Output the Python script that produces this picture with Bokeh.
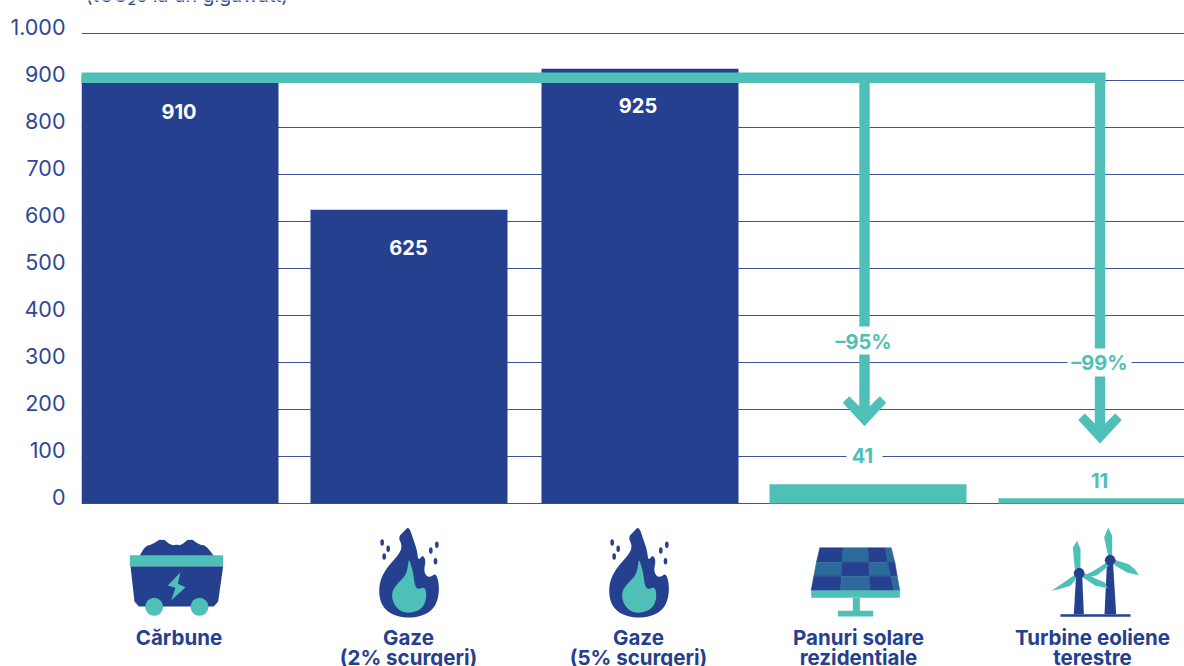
from bokeh.core.properties import value
from bokeh.embed import file_html
from bokeh.models import FixedTicker, Grid, LinearAxis, Range1d
from bokeh.plotting import figure
from bokeh.resources import INLINE

# Chart data
categories = ["Cărbune", "Gaze\n(2% scurgeri)", "Gaze\n(5% scurgeri)",
              "Panuri solare\nrezidențiale", "Turbine eoliene\nterestre"]
emissions = [910, 625, 925, 41, 11]
emission_labels = ["910", "625", "925", "41", "11"]
tick_values = [0, 100, 200, 300, 400, 500, 600, 700, 800, 900, 1000]
tick_labels = ["0", "100", "200", "300", "400", "500", "600", "700", "800", "900", "1.000"]
reductions = ["–95%", "–99%"]
unit_caption = "(tCO₂e la un gigawatt)"

# Layout, in page pixels
W, H = 1184, 666
FRAME_LEFT = 81
ZERO_Y = 503
PX_PER_UNIT = 0.47
BAR_LEFT = [81, 310, 541, 769, 998]
BAR_W = 197
LABEL_CX = [178.5, 408, 638, 858, 1092]
VALUE_CX = [178.5, 408, 637.5, 862, 1099]
VALUE_CY = [111, 247, 105, 455, 480]

NAVY = "#25408F"
TEAL = "#4EC0B7"
GRID = "#3E52A0"
PANEL_LIGHT = "#2B6A9B"
FONT = "Inter"

y_start = -(H - ZERO_Y) / PX_PER_UNIT
y_end = ZERO_Y / PX_PER_UNIT
label_shift = 7 / PX_PER_UNIT

p = figure(width=W, height=H, output_backend="svg", toolbar_location=None,
           x_range=Range1d(FRAME_LEFT, W), y_range=Range1d(y_start, y_end),
           x_axis_location=None, y_axis_location=None,
           min_border_left=FRAME_LEFT, min_border_right=0, min_border_top=0, min_border_bottom=0,
           outline_line_color=None, background_fill_color="white", border_fill_color="white")
p.grid.visible = False

# Page-coordinate range for the connector, pictograms and captions
p.extra_y_ranges = {"page": Range1d(H, 0),
                    "ticks": Range1d(y_start - label_shift, y_end - label_shift)}

# Tick labels sit just above their gridlines
axis = LinearAxis(y_range_name="ticks", ticker=FixedTicker(ticks=tick_values),
                  major_label_overrides=dict(zip(tick_values, tick_labels)),
                  axis_line_color=None, major_tick_line_color=None, minor_tick_line_color=None,
                  major_label_standoff=10, major_label_text_color="#2E4896",
                  major_label_text_font=FONT, major_label_text_font_size="21.5px")
p.add_layout(axis, "left")
p.add_layout(Grid(dimension=1, ticker=FixedTicker(ticks=tick_values), grid_line_color=GRID,
                  grid_line_width=1, level="underlay"))

# Bars
bar_colors = [NAVY, NAVY, NAVY, TEAL, TEAL]
p.quad(left=BAR_LEFT, right=[x + BAR_W for x in BAR_LEFT], bottom=[0] * 5, top=emissions,
       fill_color=bar_colors, line_color=None)


def poly(pts, color, ox=0.0, oy=0.0, scale=1.0, seam=0.0):
    p.patch([ox + x * scale for x, _ in pts], [oy + y * scale for _, y in pts],
            fill_color=color, line_color=color if seam else None, line_width=seam or 1,
            y_range_name="page")


def box(x0, x1, y0, y1, color, ox=0.0, oy=0.0, scale=1.0):
    p.quad(left=[ox + x0 * scale], right=[ox + x1 * scale], top=[oy + y0 * scale],
           bottom=[oy + y1 * scale], fill_color=color, line_color=None, y_range_name="page")


def disc(cx, cy, r, color, ox=0.0, oy=0.0, scale=1.0):
    p.ellipse(x=[ox + cx * scale], y=[oy + cy * scale], width=2 * r * scale, height=2 * r * scale,
              fill_color=color, line_color=None, y_range_name="page")


def rounded(pts, passes=2):
    # Corner-cutting to soften a closed outline
    for _ in range(passes):
        out = []
        for i, (x0, y0) in enumerate(pts):
            x1, y1 = pts[(i + 1) % len(pts)]
            out.append((0.75 * x0 + 0.25 * x1, 0.75 * y0 + 0.25 * y1))
            out.append((0.25 * x0 + 0.75 * x1, 0.25 * y0 + 0.75 * y1))
        pts = out
    return pts


# Connector with two downward arrows
ARROW_LEVEL = 77
box(80, 1105, 72, 82.5, TEAL)
for cx, tip in [(864, 425.7), (1099.5, 443)]:
    box(cx - 5.2, cx + 5.2, ARROW_LEVEL, tip - 15, TEAL)
    poly([(cx, tip), (cx + 21.7, tip - 23.4), (cx + 15.3, tip - 30), (cx + 5.2, tip - 20),
          (cx - 5.2, tip - 20), (cx - 15.3, tip - 30), (cx - 21.7, tip - 23.4)], TEAL)

# White knock-outs behind labels that interrupt lines
box(830, 897, 326, 354, "white")
box(1067, 1131, 348, 376, "white")
box(846, 882, 448, 464, "white")

# Value labels
value_colors = ["white", "white", "white", TEAL, TEAL]
p.text(x=VALUE_CX, y=VALUE_CY, text=emission_labels, y_range_name="page", text_align="center",
       text_baseline="middle", text_color=value_colors, text_font=value(FONT),
       text_font_style="bold", text_font_size="20px")
p.text(x=[863, 1099], y=[341, 362], text=reductions, y_range_name="page", text_align="center",
       text_baseline="middle", text_color=TEAL, text_font=value(FONT),
       text_font_style="bold", text_font_size="20px")

# Unit caption, running off the top of the page
p.text(x=[85], y=[0], y_offset=-6, text=[unit_caption], y_range_name="page", text_align="left",
       text_baseline="alphabetic", text_color="#2E4896", text_font=value(FONT),
       text_font_size="19.5px")

# Category captions
for cx, name in zip(LABEL_CX, categories):
    for i, line in enumerate(name.split("\n")):
        p.text(x=[cx], y=[637 + 20 * i], text=[line], y_range_name="page", text_align="center",
               text_baseline="middle", text_color=NAVY, text_font=value(FONT),
               text_font_style="bold", text_font_size="20.5px")

# Coal wagon pictogram
S = 1 / 3
O = dict(ox=120, oy=525, scale=S)
poly(rounded([(57, 90), (75, 62), (93, 57), (125, 38), (153, 60), (170, 57), (180, 60), (208, 38),
              (238, 58), (255, 60), (280, 90), (280, 100), (57, 100)], 1), NAVY, **O)
poly([(30, 122), (308, 122), (293, 228), (280, 243), (55, 243), (42, 228)], NAVY, **O)
box(28, 308, 89, 122, TEAL, **O)
disc(101, 244, 27, TEAL, **O)
disc(237, 244, 27, TEAL, **O)
poly([(180, 140), (142, 180), (165, 187), (152, 225), (195, 185), (172, 175)], TEAL, **O)

# Flame pictograms
FLAME = [(115, 2), (128, 40), (140, 75), (143, 106), (157, 88), (166, 105), (160, 135), (168, 152),
         (180, 155), (195, 143), (205, 170), (205, 210), (192, 247), (160, 270), (115, 278),
         (70, 270), (38, 247), (25, 210), (28, 165), (50, 125), (87, 85), (95, 60), (83, 35),
         (100, 18)]
FLAME_CORE = [(115, 97), (128, 140), (132, 175), (140, 192), (160, 185), (167, 195), (167, 225),
              (152, 252), (115, 264), (83, 254), (65, 225), (65, 195), (85, 170), (105, 150),
              (112, 125)]
DROPS = [(35, 51), (53, 70), (41, 93), (181, 75), (199, 58), (195, 107)]
for ox in (370, 600):
    O = dict(ox=ox, oy=525, scale=S)
    poly(rounded(FLAME), NAVY, **O)
    poly(rounded(FLAME_CORE), TEAL, **O)
    p.ellipse(x=[ox + x * S for x, _ in DROPS], y=[525 + y * S for _, y in DROPS], width=3.6,
              height=6.5, fill_color=NAVY, line_color=None, y_range_name="page")

# Solar panel pictogram
O = dict(ox=800, oy=540, scale=S)
rows_y = [22, 65, 107, 150]
cols_x = [[58, 128, 203, 255, 272], [48, 125, 205, 262, 283], [40, 123, 207, 272, 290],
          [32, 120, 210, 280, 298]]
for r in range(3):
    for c in range(4):
        shade = NAVY if (r + c) % 2 == 0 else PANEL_LIGHT
        poly([(cols_x[r][c], rows_y[r]), (cols_x[r][c + 1], rows_y[r]),
              (cols_x[r + 1][c + 1], rows_y[r + 1]), (cols_x[r + 1][c], rows_y[r + 1])], shade,
             seam=0.6, **O)
box(32, 298, 150, 172, TEAL, **O)
box(157, 178, 172, 212, TEAL, **O)
box(112, 218, 211, 228, TEAL, **O)

# Wind turbine pictogram
O = dict(ox=1045, oy=522, scale=S)
poly([(92, 155), (110, 155), (115, 275), (85, 275)], NAVY, **O)
poly([(185, 110), (202, 110), (212, 275), (177, 275)], NAVY, **O)
box(45, 255, 275, 283, NAVY, **O)
for blade in ([(88, 140), (82, 75), (95, 55), (105, 80), (105, 135)],
              [(90, 155), (55, 180), (18, 205), (40, 200), (75, 190), (95, 165)],
              [(112, 150), (150, 168), (178, 180), (187, 197), (150, 190), (112, 165)],
              [(188, 100), (176, 45), (188, 15), (200, 40), (200, 98)],
              [(183, 120), (145, 145), (118, 158), (135, 163), (155, 158), (190, 130)],
              [(207, 112), (250, 125), (268, 140), (280, 158), (245, 150), (207, 128)]):
    poly(blade, TEAL, **O)
disc(101, 152, 16, NAVY, **O)
disc(194, 113, 16, NAVY, **O)

open("out.html", "w").write(file_html(p, INLINE))
